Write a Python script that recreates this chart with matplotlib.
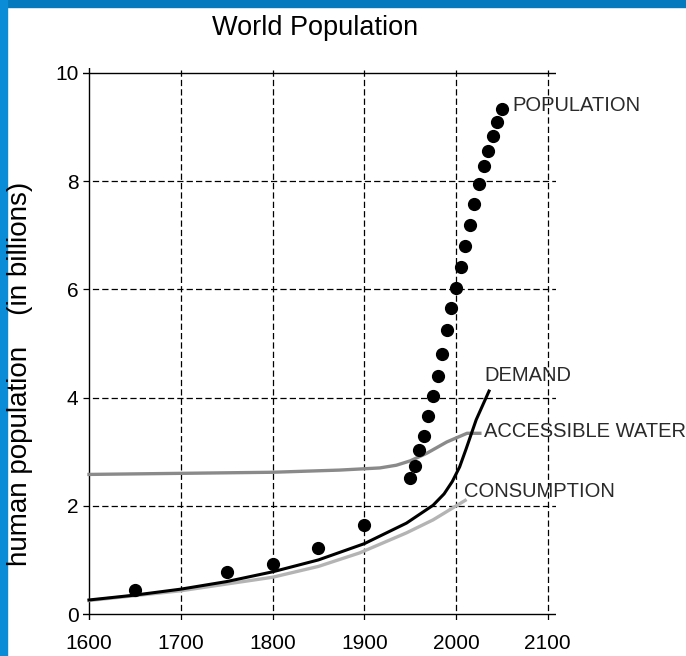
import numpy as np
import matplotlib.pyplot as plt
from matplotlib.patches import Rectangle

# --- dados ---
pop_years = [1650, 1750, 1800, 1850, 1900,
             1950, 1955, 1960, 1965, 1970, 1975, 1980, 1985, 1990, 1995,
             2000, 2005, 2010, 2015, 2020, 2025, 2030, 2035, 2040, 2045, 2050]
pop_values = [0.45, 0.78, 0.92, 1.22, 1.64,
              2.51, 2.74, 3.03, 3.29, 3.66, 4.03, 4.40, 4.80, 5.24, 5.65,
              6.03, 6.42, 6.81, 7.18, 7.58, 7.94, 8.27, 8.55, 8.84, 9.10, 9.33]

demand_years = [1600, 1650, 1700, 1750, 1800, 1850, 1900, 1946, 1975, 1987, 1996, 2004, 2011, 2022, 2036]
demand_values = [0.26, 0.35, 0.46, 0.6, 0.78, 1.0, 1.3, 1.68, 2.01, 2.22, 2.45, 2.72, 3.05, 3.59, 4.12]

water_years = [1600, 1700, 1800, 1873, 1917, 1935, 1950, 1968, 1990, 2012, 2026]
water_values = [2.58, 2.6, 2.62, 2.66, 2.7, 2.75, 2.83, 2.97, 3.18, 3.34, 3.34]

cons_years = [1600, 1700, 1800, 1850, 1895, 1946, 1975, 2010]
cons_values = [0.25, 0.43, 0.68, 0.88, 1.13, 1.5, 1.74, 2.1]

x_ticks = [1600, 1700, 1800, 1900, 2000, 2100]
y_ticks = [0, 2, 4, 6, 8, 10]

plt.rcParams['font.family'] = ['Liberation Sans', 'DejaVu Sans']

fig = plt.figure(figsize=(6.86, 6.56), dpi=100)
# borda azul
fig.patches.append(Rectangle((0, 1 - 7/656), 1, 7/656, transform=fig.transFigure,
                             color='#0579bd', zorder=0))
fig.patches.append(Rectangle((0, 0), 7/686, 1, transform=fig.transFigure,
                             color='#0a8cd6', zorder=0))

ax = fig.add_axes([82.6/686, 36/656, 473.4/686, 552/656])
ax.set_xlim(1593, 2109)
ax.set_ylim(-0.11, 10.09)
for s in ax.spines.values():
    s.set_visible(False)

# grade tracejada e eixos sólidos
dash = (0, (5, 2.5))
for xv in x_ticks[1:]:
    ax.axvline(xv, color='black', lw=0.9, linestyle=dash, zorder=1)
for yv in y_ticks[1:-1]:
    ax.axhline(yv, color='black', lw=0.9, linestyle=dash, zorder=1)
ax.axvline(1600, color='black', lw=1.0, zorder=1)
ax.axhline(0, color='black', lw=1.0, zorder=1)
ax.axhline(10, color='black', lw=1.0, zorder=1)

ax.set_xticks(x_ticks)
ax.set_yticks(y_ticks)
ax.tick_params(length=0, labelsize=15, pad=3)
ax.tick_params(axis='x', pad=10)

ax.plot(water_years, water_values, color='#8a8a8a', lw=2.4, zorder=2)
ax.plot(cons_years, cons_values, color='#b4b4b4', lw=2.4, zorder=2)
ax.plot(demand_years, demand_values, color='black', lw=2.2, zorder=3)
ax.plot(pop_years, pop_values, 'o', color='black', markersize=8.5, zorder=4)

lab = dict(fontsize=14.5, color='#2a2a2a', va='center', ha='left')
ax.text(2061, 9.4, 'POPULATION', **lab)
ax.text(2031, 4.4, 'DEMAND', **lab)
ax.text(2031, 3.38, 'ACCESSIBLE WATER', **lab)
ax.text(2009, 2.26, 'CONSUMPTION', **lab)

fig.text(315/686, 1 - 28/656, 'World Population', fontsize=19.5, ha='center', va='center')
fig.text(20/686, 1 - 374/656, 'human population    (in billions)', fontsize=20,
         rotation=90, ha='center', va='center')

fig.savefig('out.png', dpi=100)
